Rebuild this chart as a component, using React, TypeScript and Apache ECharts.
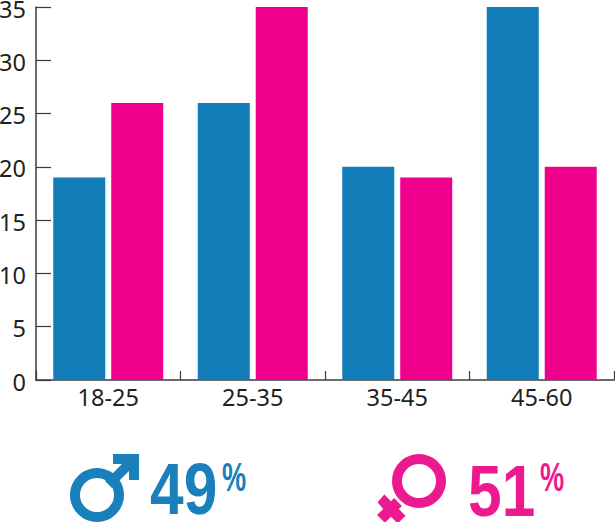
import React, { useEffect, useRef } from "react";
import * as echarts from "echarts";

const categories = ["18-25", "25-35", "35-45", "45-60"];
const maleValues = [19, 26, 20, 35];
const femaleValues = [26, 35, 19, 20];
const malePercent = "49";
const femalePercent = "51";
const BLUE = "#137DB9";
const PINK = "#EE008C";
const MALE_ICON = "#1A80BB";
const FEMALE_ICON = "#ED1A8F";
const INK = "#231F20";
const AXIS = "#3A3A3A";
const BIG = { fontFamily: "Liberation Sans", fontWeight: "bold" as const, verticalAlign: "middle" as const };

export default function App() {
  const ref = useRef<HTMLDivElement>(null);
  useEffect(() => {
    document.body.style.margin = "0";
    const chart = echarts.init(ref.current!, null, { renderer: "svg" });
    chart.setOption({
      animation: false,
      grid: { left: 36, right: 1, top: 7, height: 373, containLabel: false, outerBoundsMode: "none" },
      xAxis: {
        type: "category",
        data: categories,
        axisLine: { lineStyle: { color: AXIS, width: 1.5 } },
        axisTick: { show: true, inside: true, length: 9, lineStyle: { color: AXIS, width: 1.2 } },
        axisLabel: { color: INK, fontSize: 23.5, fontFamily: "Noto Sans", margin: 5 },
      },
      yAxis: {
        type: "value",
        min: 0,
        max: 35,
        interval: 5,
        splitLine: { show: false },
        axisLine: { show: true, lineStyle: { color: AXIS, width: 1.5 } },
        axisTick: { show: true, inside: true, length: 15, lineStyle: { color: AXIS, width: 1.2 } },
        axisLabel: { color: INK, fontSize: 23.5, fontFamily: "Noto Sans", margin: 10, verticalAlign: "top", lineHeight: 3 },
      },
      series: [
        { name: "Male", type: "bar", data: maleValues, barWidth: 52, barGap: "11.5%", itemStyle: { color: BLUE } },
        { name: "Female", type: "bar", data: femaleValues, barWidth: 52, itemStyle: { color: PINK } },
      ],
      graphic: [
        { type: "ring", shape: { cx: 97, cy: 495, r: 27, r0: 17 }, style: { fill: MALE_ICON } },
        {
          type: "polygon",
          shape: {
            points: [[113, 454], [139, 454], [139, 480], [129, 480], [129, 471], [112, 488], [105, 481], [122, 464], [113, 464]],
          },
          style: { fill: MALE_ICON },
        },
        { type: "text", x: 150, y: 489, scaleX: 0.84, style: { text: malePercent, fill: MALE_ICON, ...BIG, fontSize: 72, lineHeight: 54 } },
        { type: "text", x: 222, y: 477, scaleX: 0.68, style: { text: "%", fill: MALE_ICON, ...BIG, fontSize: 40 } },
        { type: "ring", shape: { cx: 419, cy: 481, r: 27, r0: 17 }, style: { fill: FEMALE_ICON } },
        {
          type: "polygon",
          shape: {
            points: [[394.1, 498.1], [391, 501.2], [384.3, 494.5], [377.5, 502.3], [383.2, 509], [377.1, 515.1], [384.9, 522.9], [391, 516.8], [397.7, 523.5], [405.5, 515.7], [398.8, 509], [401.9, 505.9]],
          },
          style: { fill: FEMALE_ICON },
        },
        { type: "text", x: 468, y: 491, scaleX: 0.84, style: { text: femalePercent, fill: FEMALE_ICON, ...BIG, fontSize: 72, lineHeight: 54 } },
        { type: "text", x: 540, y: 477, scaleX: 0.68, style: { text: "%", fill: FEMALE_ICON, ...BIG, fontSize: 40 } },
      ],
    });
    return () => chart.dispose();
  }, []);
  return <div ref={ref} style={{ width: 615, height: 522 }} />;
}
